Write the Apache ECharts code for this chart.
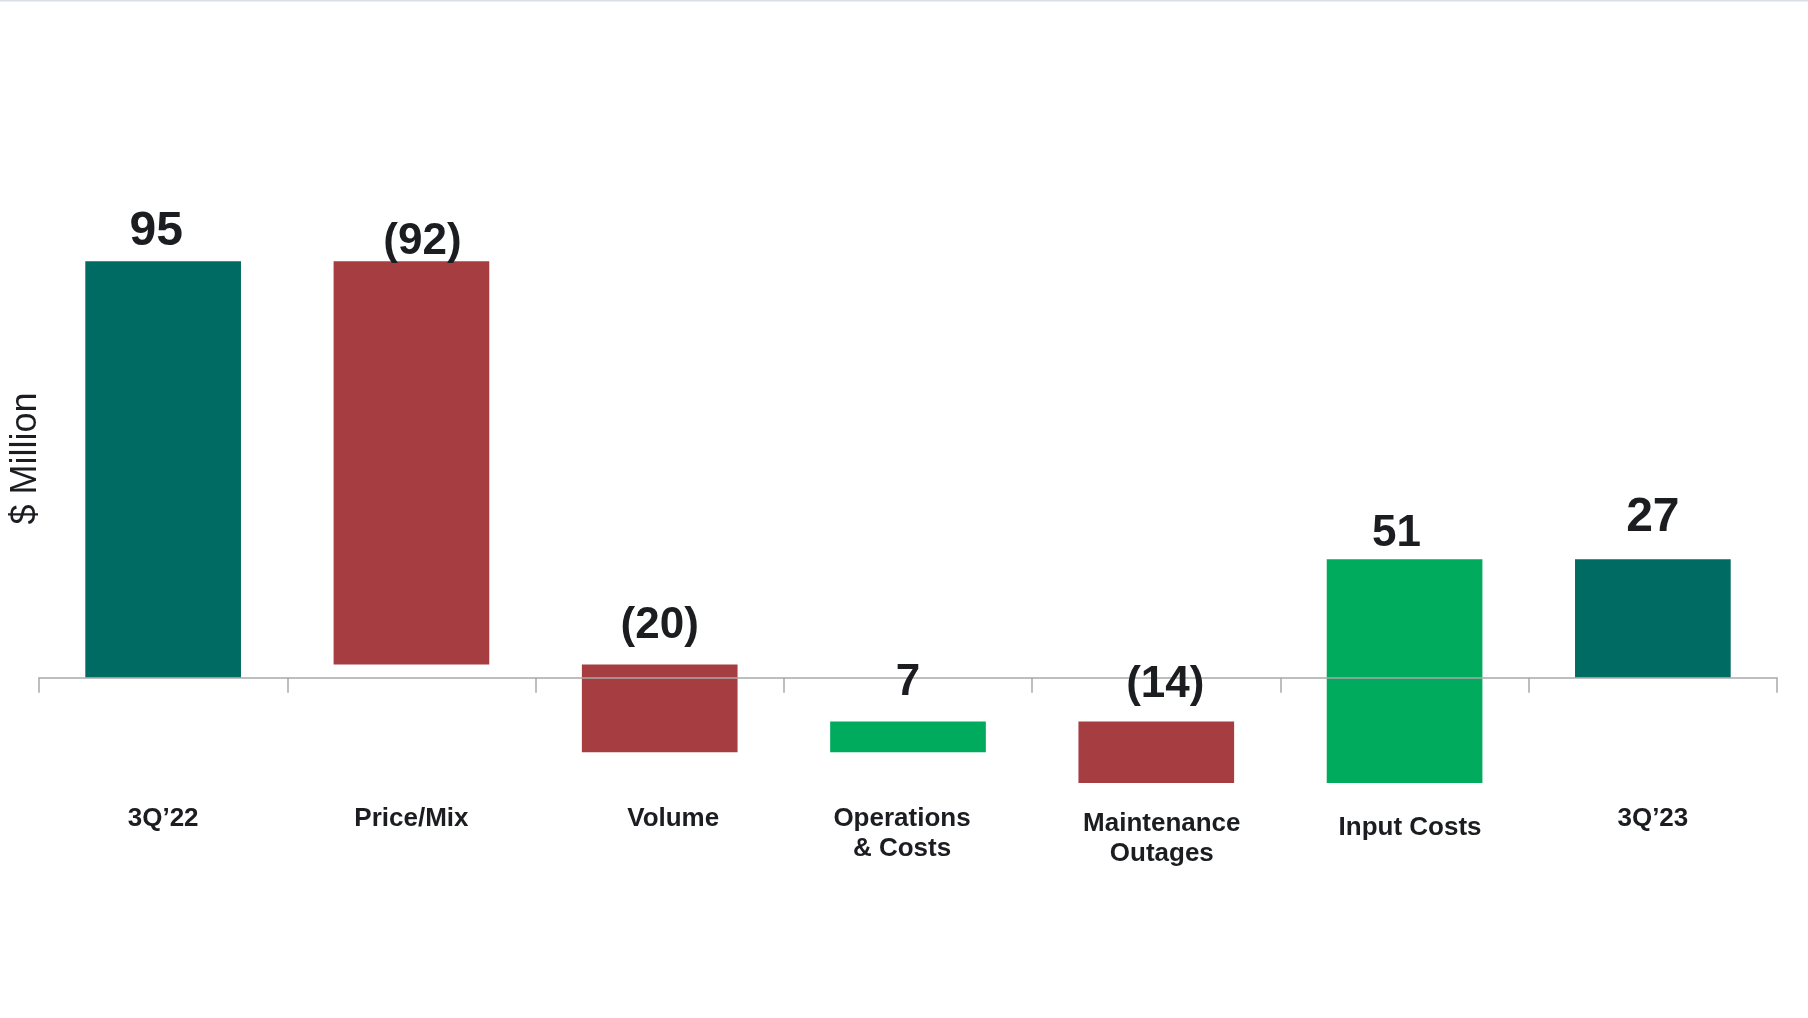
<!DOCTYPE html>
<html>
<head>
<meta charset="utf-8">
<script src="https://cdn.jsdelivr.net/npm/echarts@6/dist/echarts.min.js"></script>
<style>
  html, body { margin: 0; padding: 0; background: #ffffff; }
  #chart { width: 1808px; height: 1018px; }
</style>
</head>
<body>
<div id="chart"></div>
<script>
// Bridge from 3Q'22 to 3Q'23, $ million
const categories = ['3Q’22', 'Price/Mix', 'Volume', 'Operations\n& Costs', 'Maintenance\nOutages', 'Input Costs', '3Q’23'];
const amounts = [95, -92, -20, 7, -14, 51, 27];
const isTotal = [true, false, false, false, false, false, true];

// Small hand-tuned nudges for the value labels and category labels (px)
const valueLabelShiftX = [-7, 11, 0, 0, 9, -8, 0];
const valueLabelLift = [29.5, 19.5, 38.5, 38.5, 36.5, 25.5, 41.5];
const categoryLabelPadding = [null, null, [0, 0, 0, 27], [0, 12, 0, 0], [5, 0, 0, 11], [9, 0, 0, 11], null];

const COLORS = { total: '#006B63', down: '#A63D41', up: '#00AB5E' };
const FONT = '"Liberation Sans", Arial, Helvetica, sans-serif';
const INK = '#1b1d21';
const AXIS_GRAY = '#a9a9a9';

// Running totals -> floating bar spans [index, low, high, amount, kind]
let running = 0;
const spans = amounts.map((v, i) => {
  if (isTotal[i]) {
    running = v;
    return [i, Math.min(0, v), Math.max(0, v), v, 'total'];
  }
  const start = running;
  running += v;
  return [i, Math.min(start, running), Math.max(start, running), v, v >= 0 ? 'up' : 'down'];
});

const fmt = v => (v < 0 ? '(' + (-v) + ')' : String(v));

const chart = echarts.init(document.getElementById('chart'), null, { renderer: 'canvas' });

chart.setOption({
  animation: false,
  backgroundColor: '#ffffff',
  grid: { left: 39, right: 31, top: 20, bottom: 121, containLabel: false, outerBoundsMode: 'none' },
  graphic: [{
    type: 'rect', left: 0, top: 0, z: 100,
    shape: { x: 0, y: 0, width: 1808, height: 1.5 },
    style: { fill: '#dadee6' }
  }],
  xAxis: {
    type: 'category',
    z: 5,
    data: categories.map((c, i) => categoryLabelPadding[i]
      ? { value: c, textStyle: { padding: categoryLabelPadding[i] } }
      : c),
    boundaryGap: true,
    axisLine: { onZero: true, lineStyle: { color: AXIS_GRAY, width: 1.5 } },
    axisTick: { show: true, length: 15, lineStyle: { color: AXIS_GRAY, width: 1.5 } },
    axisLabel: {
      interval: 0,
      margin: -93,
      color: INK,
      fontFamily: FONT,
      fontWeight: 'bold',
      fontSize: 26,
      lineHeight: 30,
      align: 'center',
      verticalAlign: 'top'
    },
    splitLine: { show: false }
  },
  yAxis: {
    type: 'value',
    min: -50,
    max: 150,
    axisLine: { show: false },
    axisTick: { show: false },
    axisLabel: { show: false },
    splitLine: { show: false },
    name: '$ Million',
    nameLocation: 'middle',
    nameRotate: 90,
    nameGap: -5,
    nameTextStyle: { color: INK, fontFamily: FONT, fontSize: 36, fontWeight: 'normal' }
  },
  series: [
    {
      // floating bars
      type: 'custom',
      z: 2,
      data: spans,
      encode: { x: 0, y: [1, 2] },
      renderItem: (params, api) => {
        const i = api.value(0);
        const kind = spans[params.dataIndex][4];
        const top = api.coord([i, api.value(2)]);
        const bottom = api.coord([i, api.value(1)]);
        const bw = api.size([1, 0])[0] * 0.627;
        return {
          type: 'rect',
          shape: { x: top[0] - bw / 2, y: top[1], width: bw, height: bottom[1] - top[1] },
          style: { fill: COLORS[kind] }
        };
      }
    },
    {
      // value labels, drawn above the axis line
      type: 'custom',
      z: 10,
      data: spans,
      encode: { x: 0, y: [1, 2] },
      renderItem: (params, api) => {
        const i = api.value(0);
        const kind = spans[params.dataIndex][4];
        const top = api.coord([i, api.value(2)]);
        const fs = kind === 'total' ? 48 : 44;
        return {
          type: 'text',
          x: top[0] + valueLabelShiftX[i],
          y: top[1] - valueLabelLift[i],
          style: {
            text: fmt(api.value(3)),
            fill: INK,
            font: 'bold ' + fs + 'px ' + FONT,
            align: 'center',
            verticalAlign: 'middle'
          }
        };
      }
    }
  ]
});
</script>
</body>
</html>
